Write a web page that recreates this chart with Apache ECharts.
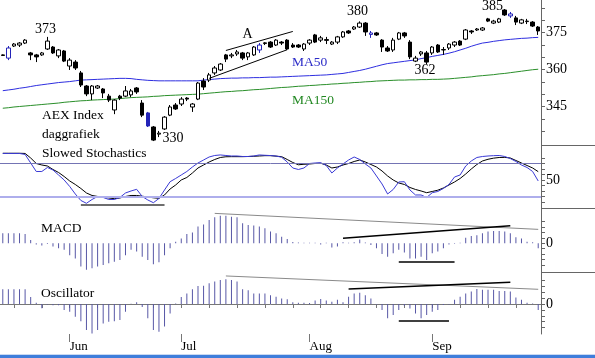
<!DOCTYPE html>
<html><head><meta charset="utf-8">
<script src="https://cdn.jsdelivr.net/npm/echarts@6/dist/echarts.min.js"></script>
<style>html,body{margin:0;padding:0;background:#fff}#c{width:595px;height:358px}</style>
</head><body><div id="c"></div>
<script>
// ---- data: daily candles [open, close, low, high] ----
const candles = [
[366.0,365.8,365.6,366.2],[364.7,368.8,363.9,369.6],[369.6,370.4,369.2,370.8],[370.0,370.8,369.2,371.2],[370.8,372.0,370.4,372.4],
[366.8,366.0,363.9,367.2],[366.0,365.2,363.1,366.4],[366.0,366.8,365.6,367.2],[368.4,371.6,368.0,373.3],[369.2,366.8,366.4,369.6],
[365.6,368.0,364.7,368.4],[367.6,363.5,363.1,368.0],[361.5,363.9,359.9,364.7],[363.1,360.7,359.9,363.9],[358.7,353.8,353.0,359.5],
[353.4,350.2,349.3,353.8],[350.2,353.4,347.7,353.8],[352.6,353.4,352.2,353.8],[352.2,350.6,348.5,352.6],[349.3,347.7,346.9,350.2],
[343.7,347.7,342.0,348.1],[349.3,348.5,347.7,349.8],[349.3,351.4,348.9,353.4],[349.8,351.4,348.9,352.2],[352.6,351.0,350.2,353.0],
[346.5,341.6,340.8,347.7],[342.5,337.2,336.8,342.9],[336.8,331.5,331.1,337.2],[333.9,334.3,332.7,335.2],[336.0,340.8,335.6,341.2],
[341.6,344.9,341.2,345.7],[345.7,344.1,343.7,346.5],[346.1,348.1,345.3,348.9],[348.5,348.1,347.3,348.9],[344.9,346.1,342.9,346.5],
[348.1,354.6,347.7,355.0],[355.4,353.0,351.8,356.6],[355.8,357.9,355.0,358.7],[358.7,360.7,357.9,361.5],[359.9,362.3,359.5,362.7],
[366.0,364.3,363.1,366.4],[365.6,366.0,364.7,366.8],[366.4,367.2,365.6,368.0],[366.8,364.7,363.9,367.2],[365.2,366.8,363.9,367.2],
[366.0,369.2,365.6,369.6],[368.0,370.0,366.8,370.8],[370.6,370.9,370.0,371.2],[371.2,369.2,368.8,371.6],[370.0,372.0,369.6,372.4],
[371.2,370.8,370.0,371.6],[372.0,368.4,368.0,372.4],[370.0,369.2,368.8,370.8],[370.0,369.2,368.8,370.4],[368.4,370.4,367.6,370.8],
[370.8,372.0,370.0,372.4],[374.1,371.2,370.8,374.5],[372.0,372.9,371.2,373.7],[372.2,371.9,370.4,373.3],[370.4,371.2,370.0,371.6],
[371.2,373.3,370.4,373.7],[373.3,375.3,372.9,375.7],[375.7,374.9,374.5,376.1],[376.5,377.3,376.1,377.7],[377.3,378.9,376.9,379.6],
[378.9,375.3,373.7,379.3],[374.9,374.3,372.9,375.7],[374.9,374.1,373.7,375.3],[372.0,369.2,367.2,372.4],[368.8,367.6,367.2,369.6],
[368.0,372.0,367.2,372.9],[372.4,374.9,372.0,375.3],[374.9,373.7,372.9,375.3],[371.2,365.2,364.3,372.0],[363.5,364.7,363.1,365.6],
[366.4,367.2,365.6,367.6],[366.8,363.1,362.3,367.6],[366.8,369.2,366.0,369.6],[370.0,367.2,366.8,370.4],[368.0,368.2,366.0,369.2],
[368.8,370.4,368.0,370.8],[370.0,371.2,369.2,371.6],[371.6,370.0,369.6,372.0],[372.4,376.1,372.0,376.5],[375.7,375.3,374.5,376.1],
[376.1,376.5,375.7,376.9],[376.1,376.9,375.7,377.3],[380.6,379.7,379.3,381.0],[378.9,379.7,378.5,380.2],[379.3,380.6,378.9,381.0],
[384.2,382.2,381.8,384.6],[382.6,381.8,381.0,383.4],[381.0,379.3,378.1,381.8],[378.9,380.2,378.5,380.6],[379.5,379.7,378.5,380.6],
[379.3,377.7,377.3,379.7],[377.3,375.7,374.1,377.7]
];
const blueCandles = [1, 26, 46, 66, 91];

const ma50 = [
351.5,351.8,352.1,352.5,352.8,353.2,353.6,353.9,354.2,354.5,
354.8,355.0,355.2,355.5,355.8,355.9,356.0,356.1,356.2,356.3,
356.4,356.5,356.5,356.4,356.1,355.9,355.7,355.6,355.5,355.5,
355.5,355.5,355.5,355.5,355.5,355.5,355.8,356.0,356.2,356.4,
356.5,356.6,356.6,356.7,356.7,356.8,356.8,356.9,357.0,357.0,
357.1,357.2,357.3,357.4,357.5,357.6,357.7,357.8,357.9,358.1,
358.3,358.5,358.9,359.3,359.7,360.2,360.8,361.4,362.0,362.5,
362.8,363.1,363.4,363.7,364.0,364.5,364.9,365.4,365.8,366.2,
366.7,367.3,368.0,368.7,369.5,370.2,370.8,371.1,371.5,371.8,
372.1,372.3,372.5,372.7,372.8,373.0,373.1
];
const ma150 = [
344.4,344.6,344.9,345.1,345.3,345.5,345.7,345.9,346.1,346.3,
346.5,346.8,347.0,347.2,347.4,347.5,347.7,347.8,347.9,348.0,
348.1,348.3,348.5,348.7,348.8,348.9,349.0,349.2,349.3,349.5,
349.6,349.7,349.8,349.9,350.0,350.1,350.3,350.5,350.7,350.9,
351.1,351.2,351.4,351.5,351.7,351.9,352.0,352.2,352.4,352.6,
352.8,352.9,353.1,353.3,353.4,353.6,353.7,353.9,354.0,354.2,
354.3,354.5,354.6,354.8,354.9,355.1,355.2,355.4,355.5,355.6,
355.7,355.8,355.8,355.9,355.9,356.0,356.0,356.1,356.1,356.2,
356.3,356.5,356.7,356.9,357.1,357.4,357.6,357.8,358.0,358.3,
358.5,358.8,359.1,359.4,359.7,360.0,360.2
];
const stochK = [
97.8,97.8,97.8,97.8,96.0,80.6,65.3,65.3,72.5,68.0,
59.0,50.0,38.3,24.8,13.1,8.0,14.9,20.3,18.5,14.9,
14.9,18.5,26.6,30.2,33.2,20.3,14.0,9.1,16.7,32.0,
46.9,52.7,59.0,65.3,73.4,80.6,86.0,91.4,94.1,95.1,
94.1,93.2,93.2,92.3,92.3,93.2,95.1,94.5,94.0,93.2,
90.9,82.4,71.6,68.9,71.6,79.7,80.6,81.2,76.1,62.6,
71.6,78.8,86.0,91.4,86.9,78.8,71.6,57.2,42.8,24.8,
32.9,46.4,46.9,32.0,23.0,23.0,18.5,27.1,29.3,34.7,
41.9,55.4,59.0,75.2,84.2,90.5,92.3,93.2,93.8,94.1,
92.3,88.6,83.3,77.0,72.5,65.3,48.2
];
const stochD = [
98.1,98.1,98.1,98.1,97.8,89.6,79.7,77.0,75.2,68.9,
63.5,56.3,48.2,41.9,34.7,26.6,22.1,20.3,19.4,17.6,
16.3,17.6,20.3,22.1,22.1,20.8,19.4,17.9,17.0,23.0,
33.8,41.0,50.0,54.5,62.6,71.6,77.0,82.4,86.9,90.5,
91.8,92.0,92.0,92.0,92.3,92.7,93.2,93.8,93.8,92.9,
92.0,86.9,81.5,77.4,78.3,78.8,79.7,80.1,77.0,71.6,
73.4,77.0,79.7,83.3,86.0,82.4,77.9,73.4,66.2,57.2,
50.0,44.6,41.9,36.5,32.9,30.2,27.1,29.3,31.6,35.6,
41.0,46.4,52.7,60.8,69.8,77.9,84.2,87.3,89.3,90.5,
90.7,89.6,85.1,80.6,76.1,71.6,65.0
];
const macd = [
1.85,1.85,1.85,1.85,1.7,0.6,-0.2,-0.4,-0.15,-0.6,
-0.9,-1.2,-2.2,-2.8,-4.3,-4.9,-4.6,-4.3,-4.0,-3.7,
-3.4,-3.1,-2.2,-1.2,-1.5,-2.5,-3.1,-3.9,-3.5,-2.2,
-0.9,0.3,0.9,1.7,2.0,3.1,3.5,4.3,4.8,5.1,
5.1,4.9,4.8,3.7,3.4,3.3,3.1,2.8,2.2,1.85,
1.2,0.8,0.25,0.15,0.1,0.1,0.1,-0.2,0.1,-0.8,
-0.6,0.2,0.1,0.2,0.7,0.15,-0.3,-0.9,-2.0,-2.5,
-1.85,-1.2,-1.7,-2.8,-2.8,-2.5,-3.1,-1.85,-1.5,-0.9,
-0.2,-0.1,0.1,1.05,1.35,1.5,1.85,2.2,2.3,2.3,
2.2,1.85,1.1,0.9,0.3,0.2,-0.9
];
const osc = [
2.5,2.5,2.5,2.5,2.5,1.2,0.2,-0.7,-0.1,-0.2,
-0.2,-1.0,-1.3,-2.15,-2.9,-4.4,-5.0,-4.4,-3.3,-3.0,
-2.9,-2.7,-1.3,0.05,0.3,-0.5,-2.4,-4.4,-4.7,-3.8,
-1.6,0.1,1.2,1.8,2.5,3.05,3.1,3.5,3.8,4.05,
4.2,4.05,3.8,2.5,2.35,1.8,1.8,1.8,1.5,1.25,
0.95,0.8,0.3,0.2,0.2,0.15,0.6,0.85,0.6,0.4,
0.7,0.3,1.25,1.8,1.9,1.5,0.95,-0.1,-1.0,-2.4,
-1.85,-1.0,-0.3,-0.75,-1.6,-2.4,-1.85,-1.3,-1.0,-0.15,
-0.1,0.7,1.25,1.8,2.1,2.55,2.4,2.4,2.4,2.2,
2.2,2.1,1.1,0.7,0.2,0.1,-1.0
];
// month labels and the day index where each month starts
const monthLabels = ['Jun', 'Jul', 'Aug', 'Sep'];
const monthIndex = [12, 32, 55, 77];
// axis tick values
const priceTicks = [335,340,345,350,355,360,365,370,375,380,385];
const priceLabels = [345, 360, 375];
const stochTicks = [10,20,30,40,50,60,70,80,90];
const stochLabels = [50];
const histTicks = [-4,-3,-2,-1,0,1,2,3,4];
const histLabels = [0];
const stochLevels = [80, 20];
// hand-drawn trend lines: [[dayIndex, value], [dayIndex, value]]
const channelA = [[[40,367.8],[52,375.5]], [[37,356.5],[51,368.1]]];
const stochSupport = [[14,6.2],[29,6.2]];
const macdGrey = [[38,5.54],[96,2.58]];
const macdBlack = [[[61,0.93],[91,3.26]], [[71,-3.41],[81,-3.41]]];
const oscGrey = [[40,4.75],[96,2.49]];
const oscBlack = [[[62,2.54],[91,3.68]], [[71,-2.88],[80,-2.88]]];

// ---- chart ----
const days = candles.map((c, i) => 'd' + i);
const SERIF = '"Liberation Serif", "Times New Roman", serif';
const BLUE = '#2424b8';
const chart = echarts.init(document.getElementById('c'), null, {renderer: 'canvas'});

const W = 541;
const grids = [
  {left: 0, width: W, top: 0, height: 145},
  {left: 0, width: W, top: 145, height: 63.3},
  {left: 0, width: W, top: 208.3, height: 64},
  {left: 0, width: W, top: 272.3, height: 61.7}
].map(g => Object.assign(g, {containLabel: false, outerBoundsMode: 'none'}));

function seg(p) { return [{coord: p[0]}, {coord: p[1]}]; }
function yAx(grid, min, max, ticks, labels) {
  return {
    type: 'value', gridIndex: grid, position: 'right', min: min, max: max,
    axisLine: {show: true, lineStyle: {color: '#666', width: 1}},
    axisTick: {show: true, length: 4, customValues: ticks, lineStyle: {color: '#666'}},
    axisLabel: {show: true, customValues: labels, margin: 5, color: '#000',
      fontFamily: SERIF, fontSize: 14},
    splitLine: {show: false}
  };
}
const hiddenX = g => ({type: 'category', gridIndex: g, data: days, boundaryGap: true, show: false});

const candleData = candles.map((c, i) => blueCandles.includes(i) ? {
  value: c,
  itemStyle: {color: i === 26 ? BLUE : '#fff', color0: BLUE, borderColor: BLUE, borderColor0: BLUE}
} : c);

const mlBase = {symbol: 'none', silent: true, animation: false, label: {show: false}, emphasis: {disabled: true}};

const option = {
  animation: false,
  backgroundColor: '#fff',
  grid: grids,
  xAxis: [
    hiddenX(0), hiddenX(1), hiddenX(2),
    {
      type: 'category', gridIndex: 3, data: days, boundaryGap: true, position: 'bottom',
      axisLine: {show: true, lineStyle: {color: '#777', width: 1}},
      axisTick: {show: true, alignWithLabel: true, length: 4, lineStyle: {color: '#777'},
        interval: (i) => i % 5 === 2},
      axisLabel: {show: true, interval: (i) => monthIndex.includes(i),
        formatter: (v, i) => { const k = monthIndex.indexOf(i); return k >= 0 ? monthLabels[k] : ''; },
        align: 'left', margin: 6, color: '#000', fontFamily: SERIF, fontSize: 13},
      splitLine: {show: false}
    },
    {
      type: 'category', gridIndex: 3, data: days, boundaryGap: true, position: 'bottom',
      axisLine: {show: false},
      axisTick: {show: true, alignWithLabel: true, length: 8, lineStyle: {color: '#777'},
        interval: (i) => monthIndex.includes(i)},
      axisLabel: {show: false}, splitLine: {show: false}
    }
  ],
  yAxis: [
    yAx(0, 329.5, 388.25, priceTicks, priceLabels),
    yAx(1, -1, 113, stochTicks, stochLabels),
    yAx(2, -5.37, 6.48, histTicks, histLabels),
    yAx(3, -5.08, 5.37, histTicks, histLabels)
  ],
  series: [
    {
      type: 'candlestick', xAxisIndex: 0, yAxisIndex: 0, barWidth: 4,
      data: candleData,
      itemStyle: {color: '#fff', color0: '#000', borderColor: '#000', borderColor0: '#000', borderWidth: 1},
      emphasis: {disabled: true},
      markLine: Object.assign({}, mlBase, {
        lineStyle: {color: '#000', width: 1, type: 'solid'},
        data: channelA.map(seg)
      })
    },
    {type: 'line', xAxisIndex: 0, yAxisIndex: 0, data: ma50, symbol: 'none',
      lineStyle: {color: '#2e2ee0', width: 1}, z: 1},
    {type: 'line', xAxisIndex: 0, yAxisIndex: 0, data: ma150, symbol: 'none',
      lineStyle: {color: '#2a8f2a', width: 1}, z: 1},
    {type: 'line', xAxisIndex: 1, yAxisIndex: 1, data: stochD, symbol: 'none',
      lineStyle: {color: '#000', width: 1}, z: 3},
    {type: 'line', xAxisIndex: 1, yAxisIndex: 1, data: stochK, symbol: 'none',
      lineStyle: {color: '#3a3ad6', width: 1}, z: 4,
      markLine: Object.assign({}, mlBase, {
        data: [
          {yAxis: stochLevels[0], lineStyle: {color: '#7474b4', width: 1, type: 'solid'}},
          {yAxis: stochLevels[1], lineStyle: {color: '#aeaeec', width: 2, type: 'solid'}},
          [{coord: stochSupport[0], lineStyle: {color: '#6e6e6e', width: 2, type: 'solid'}}, {coord: stochSupport[1]}]
        ]
      })
    },
    {type: 'bar', xAxisIndex: 2, yAxisIndex: 2, data: macd, barWidth: 1,
      itemStyle: {color: '#5757a6'}, emphasis: {disabled: true},
      markLine: Object.assign({}, mlBase, {
        data: [
          [{coord: macdGrey[0], lineStyle: {color: '#8a8a8a', width: 1, type: 'solid'}}, {coord: macdGrey[1]}],
          ...macdBlack.map(p => [{coord: p[0], lineStyle: {color: '#000', width: 1.5, type: 'solid'}}, {coord: p[1]}])
        ]
      })
    },
    {type: 'bar', xAxisIndex: 3, yAxisIndex: 3, data: osc, barWidth: 1,
      itemStyle: {color: '#5757a6'}, emphasis: {disabled: true},
      markLine: Object.assign({}, mlBase, {
        data: [
          [{coord: oscGrey[0], lineStyle: {color: '#8a8a8a', width: 1, type: 'solid'}}, {coord: oscGrey[1]}],
          ...oscBlack.map(p => [{coord: p[0], lineStyle: {color: '#000', width: 1.5, type: 'solid'}}, {coord: p[1]}])
        ]
      })
    }
  ],
  graphic: [
    ...[145.5, 208.5, 272.5].map(y => ({type: 'line', silent: true,
      shape: {x1: 541, y1: y, x2: 595, y2: y}, style: {stroke: '#666', lineWidth: 1}})),
    ...[
      ['373', 45.5, 29, 'center', '#000', 14],
      ['330', 173, 138, 'center', '#000', 14],
      ['A', 247.5, 34, 'center', '#000', 14],
      ['380', 357.5, 11.5, 'center', '#000', 14],
      ['362', 425, 70, 'center', '#000', 14],
      ['385', 492.5, 6.5, 'center', '#000', 14],
      ['MA50', 292, 62.5, 'left', '#2b2bc8', 13.5],
      ['MA150', 292, 100, 'left', '#228822', 13.5],
      ['AEX Index', 42, 115, 'left', '#000', 13.5],
      ['daggrafiek', 42, 134, 'left', '#000', 13.5],
      ['Slowed Stochastics', 42, 153, 'left', '#000', 13.5],
      ['MACD', 41, 228, 'left', '#000', 13.5],
      ['Oscillator', 41, 293, 'left', '#000', 13.5]
    ].map(t => ({type: 'text', silent: true, x: t[1], y: t[2], z: 100,
      style: {text: t[0], fill: t[4], font: t[5] + 'px ' + SERIF, align: t[3], verticalAlign: 'middle'}})),
    {type: 'rect', silent: true, shape: {x: 0, y: 354, width: 595, height: 1}, style: {fill: '#c9d9f2'}},
    {type: 'rect', silent: true, shape: {x: 0, y: 355, width: 595, height: 3}, style: {fill: '#3f7edb'}}
  ]
};
chart.setOption(option);
</script>
</body></html>
